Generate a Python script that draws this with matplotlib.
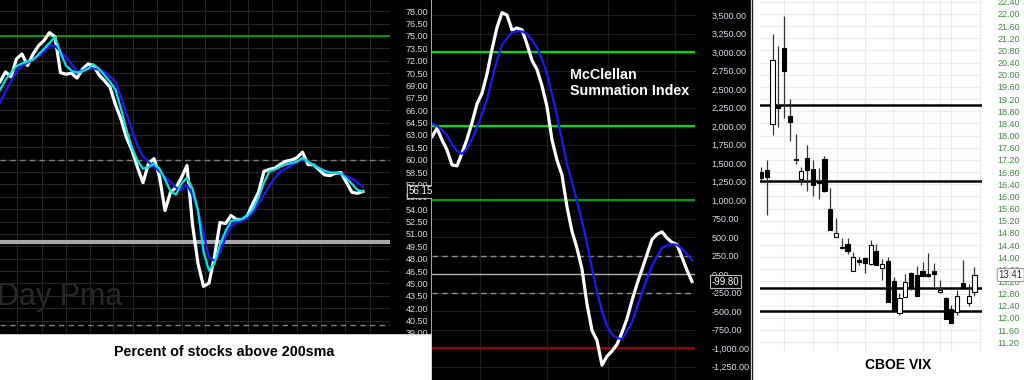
import matplotlib.pyplot as plt
from matplotlib.patches import Rectangle
from matplotlib.lines import Line2D
import numpy as np

plt.rcParams['font.family'] = ['Liberation Sans', 'DejaVu Sans']

# percent of stocks above 200sma (raw, fast pma, slow pma)
pct_raw = [69.44, 70.63, 70.05, 72.22, 72.81, 71.40, 72.79, 73.80, 74.44, 75.40,
           74.88, 70.55, 70.36, 70.48, 69.89, 70.97, 71.60, 71.40, 70.28, 69.57,
           68.77, 66.66, 64.90, 62.67, 61.14, 59.07, 57.22, 59.52, 60.13, 57.95,
           53.84, 56.06, 56.62, 57.83, 59.30, 52.15, 47.43, 44.65, 45.05, 48.28,
           52.39, 52.27, 53.23, 52.75, 52.75, 53.23, 54.73, 56.05, 58.60, 58.83,
           58.98, 59.46, 59.81, 59.96, 60.25, 60.91, 59.40, 59.40, 58.80, 58.17,
           58.07, 58.35, 58.43, 57.22, 56.04, 55.93, 56.15]
pct_fast = [68.47, 69.68, 70.56, 71.34, 71.67, 71.89, 72.10, 72.76, 73.43, 74.15,
            74.88, 72.98, 71.41, 70.77, 70.56, 70.71, 71.01, 71.57, 71.00, 70.24,
            69.44, 68.47, 66.17, 63.63, 61.46, 59.89, 58.92, 59.10, 59.52, 58.92,
            57.64, 56.17, 55.77, 57.10, 57.83, 56.50, 53.84, 48.88, 46.58, 47.43,
            49.73, 51.30, 52.57, 52.69, 52.81, 53.23, 54.02, 55.41, 57.22, 58.62,
            58.80, 59.16, 59.44, 59.58, 59.76, 60.21, 59.76, 59.37, 58.98, 58.64,
            58.43, 58.43, 58.33, 57.75, 57.06, 56.34, 56.14]
pct_slow = [66.90, 68.23, 69.51, 70.57, 71.37, 71.74, 72.10, 72.56, 73.07, 73.81,
            73.79, 73.13, 72.46, 71.61, 70.70, 70.79, 71.13, 71.06, 70.91, 70.65,
            70.09, 69.44, 67.62, 65.63, 63.63, 61.70, 60.44, 59.72, 59.13, 58.56,
            57.95, 57.29, 56.62, 56.32, 56.98, 55.74, 53.88, 51.18, 48.19, 47.72,
            48.71, 50.54, 51.90, 52.42, 52.56, 52.93, 53.60, 54.66, 55.74, 56.84,
            57.79, 58.58, 58.92, 59.28, 59.73, 60.10, 59.76, 59.40, 59.04, 58.70,
            58.52, 58.46, 58.29, 58.02, 57.72, 57.25, 56.74]
pct_last = 56.15

# mcclellan summation index and its average
msi = [1859, 1973, 1815, 1680, 1477, 1464, 1635, 1824, 2049, 2301,
       2446, 2707, 3041, 3336, 3535, 3504, 3301, 3328, 3303, 3109,
       2891, 2766, 2547, 2265, 1815, 1541, 1342, 909, 580, 351,
       68, -405, -761, -897, -1230, -1110, -1041, -950, -788, -604,
       -355, -134, 64, 265, 468, 539, 572, 489, 430, 401,
       228, 53, -99.8]
msi_ma = [2041, 2007, 1947, 1882, 1755, 1665, 1626, 1699, 1824, 1973,
          2164, 2355, 2636, 2889, 3101, 3191, 3270, 3284, 3282, 3245,
          3168, 3065, 2907, 2716, 2434, 2149, 1816, 1491, 1243, 988,
          716, 419, 81, -230, -500, -701, -815, -862, -881, -769,
          -650, -447, -246, -66, 111, 235, 353, 385, 405, 397,
          345, 272, 188]
msi_last = -99.80

# cboe vix daily candles
vix_open = [16.79, 16.88, 18.38, 18.97, 20.87, 18.64, 17.22, 16.58, 17.25, 16.89,
            16.50, 17.22, 15.57, 14.65, 14.35, 14.43, 13.56, 13.91, 13.96, 13.78,
            14.20, 13.63, 13.89, 13.22, 12.15, 12.68, 13.47, 13.40, 13.55, 13.45,
            13.55, 12.87, 12.65, 12.29, 12.18, 13.14, 12.48, 12.87]
vix_high = [16.95, 17.18, 21.34, 20.95, 21.93, 19.20, 18.05, 16.98, 17.68, 17.20,
            16.92, 17.33, 16.27, 15.28, 14.62, 14.62, 14.18, 14.02, 14.02, 14.57,
            14.42, 13.93, 14.00, 13.36, 12.81, 13.45, 13.52, 13.72, 13.85, 14.13,
            13.82, 13.25, 12.70, 12.43, 12.92, 13.91, 13.12, 13.66]
vix_low = [16.54, 15.39, 18.02, 18.27, 18.57, 17.83, 17.07, 16.36, 16.19, 16.01,
           15.90, 16.15, 14.89, 14.65, 14.28, 14.09, 13.56, 13.74, 13.49, 13.74,
           13.74, 13.25, 12.54, 12.26, 12.10, 12.68, 12.92, 12.72, 13.38, 13.36,
           12.98, 12.83, 11.96, 11.82, 12.10, 12.98, 12.39, 12.72]
vix_close = [16.62, 16.63, 20.49, 18.90, 20.13, 18.44, 17.19, 16.85, 16.87, 16.36,
             16.44, 16.19, 14.89, 14.78, 14.30, 14.20, 14.00, 13.83, 13.80, 14.40,
             13.74, 13.78, 12.54, 12.26, 12.65, 13.17, 12.98, 12.72, 13.38, 13.38,
             13.45, 12.92, 11.96, 11.85, 12.72, 12.98, 12.72, 13.41]
vix_last = 13.41
vix_levels = [19.0, 16.5, 13.0, 12.23]

fig = plt.figure(figsize=(10.24, 3.8), dpi=100, facecolor='white')

# black backgrounds behind the two dark panels
fig.add_artist(Rectangle((0, 47/380), 430/1024, 333/380, transform=fig.transFigure,
                         color='black', zorder=-1))
fig.add_artist(Rectangle((432/1024, 0), 320/1024, 1, transform=fig.transFigure,
                         color='black', zorder=-1))
fig.add_artist(Line2D([751/1024, 751/1024], [0, 1], transform=fig.transFigure,
                      color='#cccccc', lw=1))

lab_font = dict(fontsize=6.5)

# ---- panel 1: percent of stocks above 200sma
ax1 = fig.add_axes([0, 47/380, 390/1024, 333/380])
ax1.set_facecolor('black')
x1 = np.arange(len(pct_raw))
ax1.set_xlim(0, 390/5.5)
ax1.set_ylim(39.08, 79.35)
ax1.set_yticks(np.arange(39, 79, 1.5))
ax1.set_yticklabels(['%.2f' % v for v in np.arange(39, 79, 1.5)], color='#dddddd', **lab_font)
ax1.yaxis.tick_right()
ax1.set_xticks([3.1, 7.6, 12, 16.4, 20.5, 24.2, 28.5, 33.1, 37.3, 41.8, 45.1, 49.5, 54, 58.4, 62.7, 67.3])
ax1.tick_params(length=0, labelbottom=False)
ax1.tick_params(axis='y', pad=11.5)
ax1.grid(color='#262626', lw=0.8)
for s in ax1.spines.values():
    s.set_visible(False)
ax1.text(-0.008, 0.084, 'Day Pma', transform=ax1.transAxes, fontsize=22,
         color='#2a2a2a', va='baseline', ha='left', zorder=1)
ax1.axhline(75, color='#00a000', lw=1.4, zorder=2)
ax1.axhline(60, color='#808080', lw=1, ls=(0, (4, 3)), zorder=2)
ax1.axhline(40, color='#808080', lw=1, ls=(0, (4, 3)), zorder=2)
ax1.axhline(50, color='#a8a8a8', lw=3, zorder=2)
ax1.plot(x1, pct_raw, color='white', lw=2.3, zorder=3)
ax1.plot(x1, pct_slow, color='#1a1aff', lw=1.6, zorder=4)
ax1.plot(x1, pct_fast, color='#00e5e5', lw=1.6, zorder=5)
ax1.annotate('%.2f' % pct_last, xy=(1, pct_last), xycoords=ax1.get_yaxis_transform(),
             xytext=(13, 0), textcoords='offset points', va='center', ha='left',
             color='white', fontsize=7, zorder=6,
             bbox=dict(boxstyle='square,pad=0.15', fc='black', ec='#bbbbbb', lw=0.8))
fig.text(224/1024, 1 - 352/380, 'Percent of stocks above 200sma', ha='center', va='center',
         fontsize=10.3, fontweight='bold', color='black')

# ---- panel 2: mcclellan summation index
ax2 = fig.add_axes([432/1024, 0, 263/1024, 1])
ax2.set_facecolor('black')
x2 = np.arange(len(msi))
ax2.set_xlim(0, 263/5)
ax2.set_ylim(-1431, 3707)
t2 = np.arange(-1250, 3501, 250)
ax2.set_yticks(t2)
ax2.set_yticklabels(['{:,.2f}'.format(v) for v in t2], color='#dcdcec', **lab_font)
ax2.yaxis.tick_right()
ax2.set_xticks([9.5, 23, 35.2, 48.6])
ax2.tick_params(length=0, labelbottom=False)
ax2.tick_params(axis='y', pad=12)
ax2.grid(color='#1e1e1e', lw=0.8)
for s in ax2.spines.values():
    s.set_visible(False)
ax2.axhline(3000, color='#00e000', lw=1.6, zorder=2)
ax2.axhline(2000, color='#00e000', lw=1.6, zorder=2)
ax2.axhline(1000, color='#00a000', lw=1.6, zorder=2)
ax2.axhline(250, color='#909090', lw=1, ls=(0, (4, 3)), zorder=2)
ax2.axhline(-250, color='#909090', lw=1, ls=(0, (4, 3)), zorder=2)
ax2.axhline(0, color='#b0b0b0', lw=1, zorder=2)
ax2.axhline(-1000, color='#a00000', lw=1.6, zorder=2)
ax2.plot(x2, msi, color='white', lw=2.3, zorder=3)
ax2.plot(x2, msi_ma, color='#1a1aff', lw=1.6, zorder=4)
ax2.text(0.525, 0.822, 'McClellan\nSummation Index', transform=ax2.transAxes,
         color='white', fontsize=10.3, fontweight='bold', va='top', ha='left', linespacing=1.2)
ax2.annotate('{:,.2f}'.format(msi_last), xy=(1, msi_last), xycoords=ax2.get_yaxis_transform(),
             xytext=(12, 0), textcoords='offset points', va='center', ha='left',
             color='white', fontsize=7, zorder=6,
             bbox=dict(boxstyle='square,pad=0.15', fc='black', ec='#bbbbbb', lw=0.8))

# ---- panel 3: cboe vix candles
ax3 = fig.add_axes([760/1024, 28/380, 222/1024, 352/380])
o = np.array(vix_open)
c = np.array(vix_close)
x3 = np.arange(len(o))
ax3.set_xlim(-0.17, 38.3)
ax3.set_ylim(10.88, 22.46)
t3 = np.arange(11.2, 22.41, 0.4)
ax3.set_yticks(t3)
ax3.set_yticklabels(['%.2f' % v for v in t3], color='#3c8c3c', **lab_font)
ax3.yaxis.tick_right()
ax3.set_xticks([4, 9, 13.2, 18, 22.9, 28, 31, 33, 38])
ax3.tick_params(length=0, labelbottom=False)
ax3.tick_params(axis='y', pad=11)
ax3.grid(color='#ebebeb', lw=0.8)
ax3.set_axisbelow(True)
for s in ax3.spines.values():
    s.set_visible(False)
for lv in vix_levels:
    ax3.axhline(lv, color='black', lw=1.8, zorder=2)
ax3.vlines(x3, vix_low, vix_high, color='#333333', lw=0.9, zorder=3)
ax3.bar(x3, np.abs(c - o), bottom=np.minimum(o, c), width=0.72,
        color=np.where(c >= o, 'white', 'black'), edgecolor='black', lw=0.8, zorder=4)
ax3.annotate('%.2f' % vix_last, xy=(1, vix_last), xycoords=ax3.get_yaxis_transform(),
             xytext=(12, 0), textcoords='offset points', va='center', ha='left',
             color='#333333', fontsize=7, zorder=6,
             bbox=dict(boxstyle='round,pad=0.15', fc='white', ec='#999999', lw=0.8))
fig.text(898/1024, 1 - 365/380, 'CBOE VIX', ha='center', va='center',
         fontsize=10, fontweight='bold', color='black')

fig.savefig('out.png', dpi=100, facecolor='white')
